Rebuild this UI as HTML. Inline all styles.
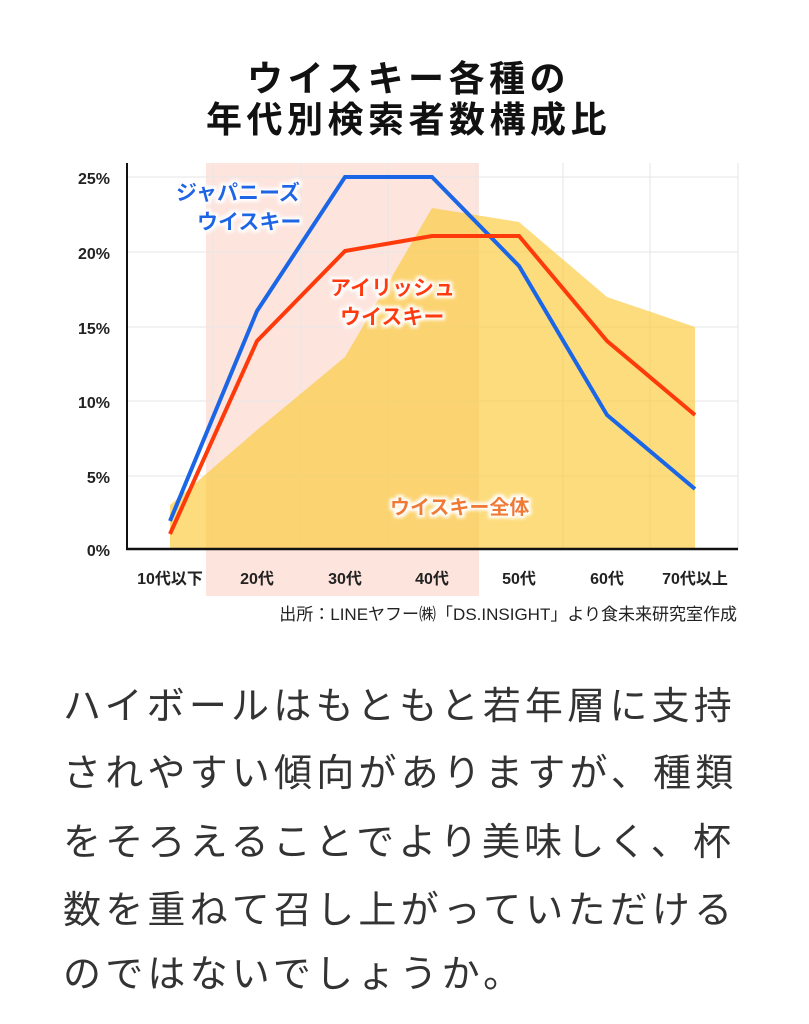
<!DOCTYPE html>
<html><head><meta charset="utf-8"><style>
body{margin:0;background:#fff;width:809px;height:1024px;overflow:hidden;position:relative;font-family:"Liberation Sans","Noto Sans CJK JP",sans-serif}
.t{position:absolute;left:4px;width:809px;text-align:center;font-weight:bold;font-size:36px;color:#111;letter-spacing:4.5px}
.b{position:absolute;left:63px;font-size:38px;letter-spacing:4.2px;color:#333;white-space:nowrap;line-height:1}
</style></head><body>
<div class="t" style="top:50px">ウイスキー各種の</div>
<div class="t" style="top:91px">年代別検索者数構成比</div>
<svg width="809" height="640" style="position:absolute;left:0;top:0" font-family="Liberation Sans, Noto Sans CJK JP, sans-serif">
<defs><filter id="g" x="-20%" y="-40%" width="140%" height="180%"><feMorphology in="SourceAlpha" operator="dilate" radius="2.5" result="d"/><feGaussianBlur in="d" stdDeviation="1.5" result="b"/><feFlood flood-color="#fff"/><feComposite in2="b" operator="in"/><feMerge><feMergeNode/><feMergeNode in="SourceGraphic"/></feMerge></filter></defs>
<rect x="206" y="163" width="273" height="433" fill="#fde4dd"/>
<g stroke="#e6e6e6" stroke-width="1">
<line x1="127" y1="177" x2="738" y2="177"/><line x1="127" y1="252" x2="738" y2="252"/><line x1="127" y1="327" x2="738" y2="327"/><line x1="127" y1="401" x2="738" y2="401"/><line x1="127" y1="476" x2="738" y2="476"/>
<line x1="213" y1="163" x2="213" y2="549"/><line x1="301" y1="163" x2="301" y2="549"/><line x1="388" y1="163" x2="388" y2="549"/><line x1="476" y1="163" x2="476" y2="549"/><line x1="563" y1="163" x2="563" y2="549"/><line x1="650" y1="163" x2="650" y2="549"/><line x1="738" y1="163" x2="738" y2="549"/>
</g>
<polygon points="170,505 257,430 345,357 432,208 519,222 607,297 695,327 695,549 170,549" fill="#fcc937" fill-opacity="0.65"/>
<polyline points="170,521 257,311 345,177 432,177 519,266 607,415 695,489" fill="none" stroke="#1a66e6" stroke-width="4"/>
<polyline points="170,534 257,341 345,251 432,236 519,236 607,341 695,415" fill="none" stroke="#ff3a0a" stroke-width="4"/>
<line x1="127" y1="163" x2="127" y2="550" stroke="#111" stroke-width="2"/>
<line x1="126" y1="549" x2="738" y2="549" stroke="#111" stroke-width="2.5"/>
<g font-size="16" font-weight="bold" fill="#222" text-anchor="end">
<text x="110" y="184">25%</text><text x="110" y="259">20%</text><text x="110" y="334">15%</text><text x="110" y="408">10%</text><text x="110" y="483">5%</text><text x="110" y="556">0%</text></g>
<g font-size="16" font-weight="bold" fill="#222" text-anchor="middle">
<text x="170" y="584">10代以下</text><text x="257" y="584">20代</text><text x="345" y="584">30代</text><text x="432" y="584">40代</text><text x="519" y="584">50代</text><text x="607" y="584">60代</text><text x="695" y="584">70代以上</text></g>
<g font-size="21" font-weight="bold" filter="url(#g)">
<text x="176" y="200" fill="#1a66e6">ジャパニーズ</text><text x="197" y="229" fill="#1a66e6">ウイスキー</text>
<text x="330" y="295" fill="#ff3a0a">アイリッシュ</text><text x="340" y="324" fill="#ff3a0a">ウイスキー</text>
<text x="390" y="514" fill="#f07a30" font-size="20">ウイスキー全体</text></g>
<text x="737" y="620" font-size="17" fill="#222" text-anchor="end">出所：LINEヤフー㈱「DS.INSIGHT」より食未来研究室作成</text>
</svg>
<div class="b" style="top:688px">ハイボールはもともと若年層に支持</div>
<div class="b" style="top:755px">されやすい傾向がありますが、種類</div>
<div class="b" style="top:824px">をそろえることでより美味しく、杯</div>
<div class="b" style="top:892px">数を重ねて召し上がっていただける</div>
<div class="b" style="top:956px">のではないでしょうか。</div>
</body></html>
